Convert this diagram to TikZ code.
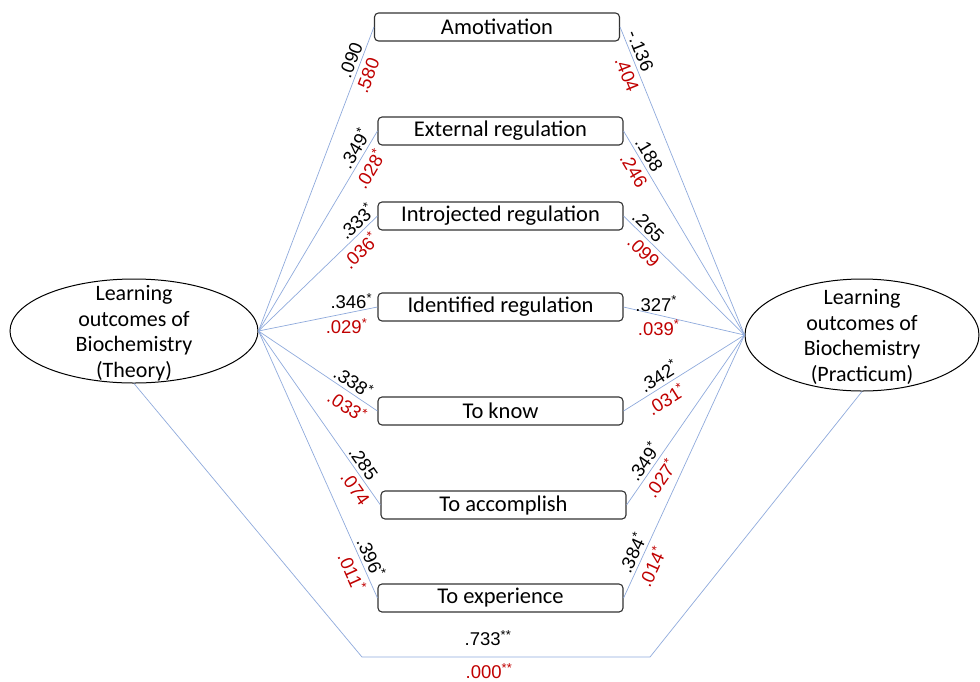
\documentclass[tikz,border=0pt]{standalone}
\usepackage{fontspec}
\setmainfont{Carlito}
\newfontfamily\numfont{Liberation Sans}
\usetikzlibrary{shapes.geometric}
\definecolor{sigred}{HTML}{C00000}
\definecolor{linkblue}{HTML}{8FAADC}
\newcommand{\onestar}{\textsuperscript{*}}
\newcommand{\twostar}{\textsuperscript{**}}
\begin{document}
\begin{tikzpicture}[x=1pt,y=-1pt,
  stagebox/.style={draw=black!80, line width=1.1pt, rounded corners=4pt, fill=white,
    minimum width=245pt, minimum height=28pt, inner sep=0pt,
    font=\fontsize{22.5}{25}\selectfont},
  outcome/.style={ellipse, draw=black, line width=1pt, fill=white, inner sep=0pt},
  outtext/.style={align=center, font=\fontsize{22}{25.5}\selectfont, inner sep=0pt},
  conn/.style={draw=linkblue, line width=0.7pt},
  coef/.style={font=\numfont\fontsize{18.5}{20}\selectfont, inner sep=0pt, text=black},
  pval/.style={coef, text=sigred},
  bl/.style={coef, sloped, above=3pt},
  rd/.style={pval, sloped, below=4.5pt},
  blh/.style={coef, above=3pt},
  rdh/.style={pval, below=4.5pt},
]
\useasboundingbox (0,0) rectangle (980,681);

\node[outcome, minimum width=248pt, minimum height=104pt] (theory) at (134,331) {};
\node[outtext] (theorytxt) at (134,333) {Learning\\outcomes of\\Biochemistry\\(Theory)};
\node[outcome, minimum width=234pt, minimum height=112pt] (practicum) at (862,335) {};
\node[outtext] (practicumtxt) at (862,337) {Learning\\outcomes of\\Biochemistry\\(Practicum)};

\node[stagebox] (amot) at (497,27) {Amotivation};
\node[stagebox] (ext) at (500.5,131) {External regulation};
\node[stagebox] (intro) at (500.5,216) {Introjected regulation};
\node[stagebox] (ident) at (500.5,307) {Identified regulation};
\node[stagebox] (know) at (500.5,411) {To know};
\node[stagebox] (accomp) at (503.5,505) {To accomplish};
\node[stagebox] (exper) at (500.5,598) {To experience};

\draw[conn] (theory.east) -- node[bl,pos=0.88] (la1) {.090} node[rd,pos=0.853] (lb1) {.580} (amot.west);
\draw[conn] (theory.east) -- node[bl,pos=0.885] (la2) {.349\onestar} node[rd,pos=0.843] (lb2) {.028\onestar} (ext.west);
\draw[conn] (theory.east) -- node[bl,pos=0.887] (la3) {.333\onestar} node[rd,pos=0.78] (lb3) {.036\onestar} (intro.west);
\draw[conn] (theory.east) -- node[blh,pos=0.78] (la4) {.346\onestar} node[rdh,pos=0.74] (lb4) {.029\onestar} (ident.west);
\draw[conn] (theory.east) -- node[bl,pos=0.748] (la5) {.338\onestar} node[rd,pos=0.806] (lb5) {.033\onestar} (know.west);
\draw[conn] (theory.east) -- node[bl,pos=0.793] (la6) {.285} node[rd,pos=0.869] (lb6) {.074} (accomp.west);
\draw[conn] (theory.east) -- node[bl,pos=0.865] (la7) {.396\onestar} node[rd,pos=0.884] (lb7) {.011\onestar} (exper.west);

\draw[conn] (amot.east) -- node[bl,pos=0.09] (ra1) {-.136} node[rd,pos=0.14] (rb1) {.404} (practicum.west);
\draw[conn] (ext.east) -- node[bl,pos=0.141] (ra2) {.188} node[rd,pos=0.165] (rb2) {.246} (practicum.west);
\draw[conn] (intro.east) -- node[bl,pos=0.146] (ra3) {.265} node[rd,pos=0.231] (rb3) {.099} (practicum.west);
\draw[conn] (ident.east) -- node[blh,pos=0.27] (ra4) {.327\onestar} node[rdh,pos=0.29] (rb4) {.039\onestar} (practicum.west);
\draw[conn] (know.east) -- node[bl,pos=0.337] (ra5) {.342\onestar} node[rd,pos=0.295] (rb5) {.031\onestar} (practicum.west);
\draw[conn] (accomp.east) -- node[bl,pos=0.219] (ra6) {.349\onestar} node[rd,pos=0.2] (rb6) {.027\onestar} (practicum.west);
\draw[conn] (exper.east) -- node[bl,pos=0.154] (ra7) {.384\onestar} node[rd,pos=0.139] (rb7) {.014\onestar} (practicum.west);

\coordinate (botleft) at (362,657);
\coordinate (botright) at (650,657);
\draw[conn] (theory.south) -- (botleft) -- (botright) -- (practicum.south);
\node[coef] (tot1) at (488,638) {.733\twostar};
\node[pval] (tot2) at (489,671) {.000\twostar};
\end{tikzpicture}
\end{document}
